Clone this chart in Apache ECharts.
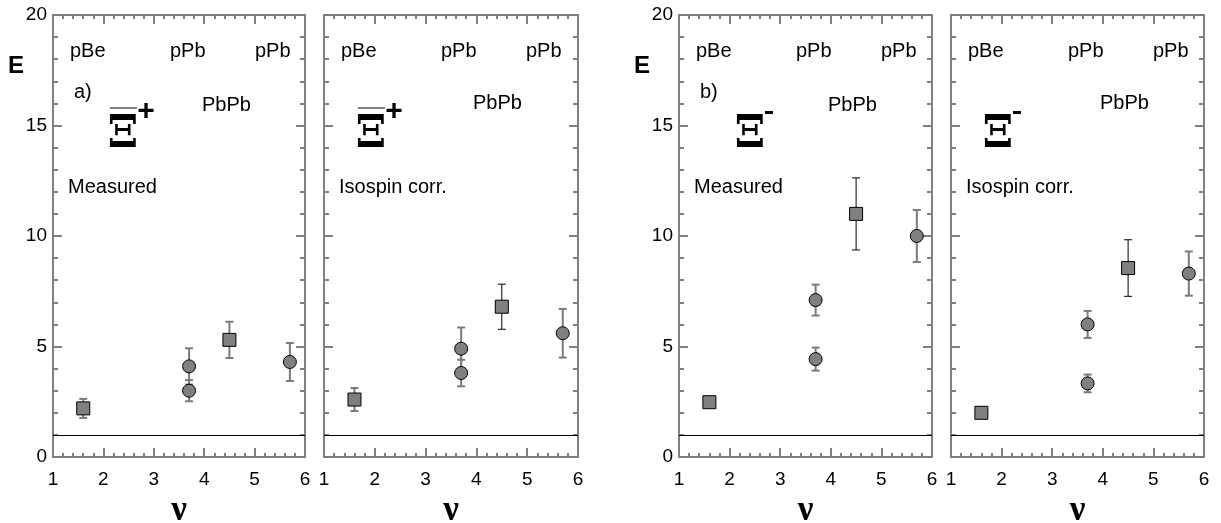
<!DOCTYPE html>
<html>
<head>
<meta charset="utf-8">
<script src="https://cdn.jsdelivr.net/npm/echarts@6/dist/echarts.min.js"></script>
<style>html,body{margin:0;padding:0;background:#fff;}#c{width:1221px;height:523px;}</style>
</head>
<body>
<div id="c"></div>
<script>
// ---- data ----
const nu = [1.6, 3.7, 3.7, 4.5, 5.7];
const shapes = ['rect', 'circle', 'circle', 'rect', 'circle'];
const xiPlusMeasured = [2.2, 4.1, 3.0, 5.3, 4.3];
const xiPlusMeasuredErr = [0.43, 0.82, 0.48, 0.82, 0.86];
const xiPlusCorr = [2.6, 4.9, 3.8, 6.8, 5.6];
const xiPlusCorrErr = [0.52, 0.96, 0.6, 1.02, 1.1];
const xiMinusMeasured = [2.48, 7.1, 4.43, 11.0, 10.0];
const xiMinusMeasuredErr = [0.1, 0.7, 0.52, 1.63, 1.18];
const xiMinusCorr = [2.0, 6.0, 3.33, 8.55, 8.3];
const xiMinusCorrErr = [0.1, 0.61, 0.4, 1.28, 1.0];
const xTicks = [1, 2, 3, 4, 5, 6];
const yTicks = [0, 5, 10, 15, 20];
const refLevel = 1;
const systems = ['pBe', 'pPb', 'pPb', 'PbPb'];
const panelLabels = ['a)', '', 'b)', ''];
const panelNotes = ['Measured', 'Isospin corr.', 'Measured', 'Isospin corr.'];
const particleCharge = ['+', '+', '-', '-'];

const panels = [
  {vals: xiPlusMeasured, errs: xiPlusMeasuredErr, left: 53, width: 252, ylab: true, darkIdx: [], xiDx: 57},
  {vals: xiPlusCorr, errs: xiPlusCorrErr, left: 324, width: 254, ylab: false, darkIdx: [3], xiDx: 34},
  {vals: xiMinusMeasured, errs: xiMinusMeasuredErr, left: 679, width: 253, ylab: true, darkIdx: [3], xiDx: 58},
  {vals: xiMinusCorr, errs: xiMinusCorrErr, left: 951, width: 253, ylab: false, darkIdx: [3], xiDx: 34}
];
const TOP = 15, HEIGHT = 442;
const AX = '#808080';
const FONT = 'Liberation Sans, Arial, sans-serif';

const grid = [], xAxis = [], yAxis = [], series = [], graphic = [];

panels.forEach((p, i) => {
  grid.push({left: p.left, top: TOP, width: p.width, height: HEIGHT, outerBoundsMode: 'none', containLabel: false});
  const axLine = {show: true, onZero: false, lineStyle: {color: AX, width: 2}};
  const common = {
    type: 'value', gridIndex: i, axisLine: axLine,
    splitLine: {show: false}, minorSplitLine: {show: false}
  };
  // bottom x
  xAxis.push(Object.assign({}, common, {
    position: 'bottom', min: xTicks[0], max: xTicks[xTicks.length - 1], interval: 1,
    axisTick: {show: true, inside: true, length: 9, lineStyle: {color: AX, width: 2}},
    minorTick: {show: true, splitNumber: 5, length: 4, lineStyle: {color: AX, width: 2}},
    axisLabel: {show: true, fontSize: 19, color: '#000', fontFamily: FONT, margin: 13},
    name: 'ν', nameLocation: 'middle', nameGap: 28,
    nameTextStyle: {fontSize: 35, fontWeight: 'bold', color: '#000', fontFamily: 'Liberation Serif, serif'}
  }));
  // top x
  xAxis.push(Object.assign({}, common, {
    position: 'top', min: xTicks[0], max: xTicks[xTicks.length - 1], interval: 1,
    axisTick: {show: true, inside: true, length: 9, lineStyle: {color: AX, width: 2}},
    minorTick: {show: true, splitNumber: 5, length: 4, lineStyle: {color: AX, width: 2}},
    axisLabel: {show: false}
  }));
  // left y
  yAxis.push(Object.assign({}, common, {
    position: 'left', min: yTicks[0], max: yTicks[yTicks.length - 1], interval: 5,
    axisTick: {show: true, inside: true, length: 9, lineStyle: {color: AX, width: 2}},
    minorTick: {show: true, splitNumber: 5, length: 5, lineStyle: {color: AX, width: 2}},
    axisLabel: {show: p.ylab, fontSize: 19, color: '#000', fontFamily: FONT, margin: 6}
  }));
  // right y
  yAxis.push(Object.assign({}, common, {
    position: 'right', min: yTicks[0], max: yTicks[yTicks.length - 1], interval: 5,
    axisTick: {show: true, inside: true, length: 9, lineStyle: {color: AX, width: 2}},
    minorTick: {show: true, splitNumber: 5, length: 5, lineStyle: {color: AX, width: 2}},
    axisLabel: {show: false}
  }));

  const xIdx = i * 2, yIdx = i * 2;
  const errData = nu.map((x, k) => [x, p.vals[k], p.errs[k], p.darkIdx.indexOf(k) >= 0 ? 1 : 0]);
  series.push({
    type: 'custom', xAxisIndex: xIdx, yAxisIndex: yIdx, z: 2, silent: true,
    data: errData,
    renderItem: function (params, api) {
      const x = api.value(0), y = api.value(1), e = api.value(2), dark = api.value(3);
      const t = api.coord([x, y + e]), b = api.coord([x, y - e]);
      const hw = 4;
      const st = {stroke: dark ? '#000' : '#7a7a7a', lineWidth: dark ? 1 : 2};
      return {
        type: 'group', children: [
          {type: 'line', shape: {x1: t[0], y1: t[1], x2: b[0], y2: b[1]}, style: st},
          {type: 'line', shape: {x1: t[0] - hw, y1: t[1], x2: t[0] + hw, y2: t[1]}, style: st},
          {type: 'line', shape: {x1: b[0] - hw, y1: b[1], x2: b[0] + hw, y2: b[1]}, style: st}
        ]
      };
    }
  });
  ['rect', 'circle'].forEach(shape => {
    series.push({
      type: 'scatter', xAxisIndex: xIdx, yAxisIndex: yIdx, z: 3, silent: true,
      symbol: shape, symbolSize: 13,
      itemStyle: {color: '#808080', borderColor: '#000', borderWidth: 1, opacity: 1},
      data: nu.map((x, k) => shapes[k] === shape ? [x, p.vals[k]] : null).filter(d => d)
    });
  });
  // reference line
  series.push({
    type: 'line', xAxisIndex: xIdx, yAxisIndex: yIdx, data: [], silent: true,
    markLine: {
      silent: true, symbol: ['none', 'none'], label: {show: false},
      lineStyle: {color: '#000', width: 1, type: 'solid'},
      data: [{yAxis: refLevel}]
    }
  });

  // annotations
  const L = p.left;
  const txt = (s, x, y, size, weight, align, family) => graphic.push({
    type: 'text', x: x, y: y, silent: true,
    style: {text: s, fill: '#000', font: (weight || 'normal') + ' ' + size + 'px ' + (family || FONT),
      align: align || 'left', verticalAlign: 'middle'}
  });
  txt(systems[0], L + 17, 51, 20);
  txt(systems[1], L + 117, 51, 20);
  txt(systems[2], L + 202, 51, 20);
  txt(systems[3], L + 149, i % 2 ? 103 : 105, 20);
  if (panelLabels[i]) txt(panelLabels[i], L + 21, 92, 20);
  txt(panelNotes[i], L + 15, 187, 20);
  if (p.ylab) txt('E', L - 45, 66, 24, 'bold');
  // Xi symbol
  const xl = L + p.xiDx;
  txt('Ξ', xl + 13, 136, 44, 'bold', 'center', 'DejaVu Serif, serif');
  if (particleCharge[i] === '+') {
    graphic.push({type: 'line', silent: true, shape: {x1: xl, y1: 108, x2: xl + 27, y2: 108}, style: {stroke: '#808080', lineWidth: 2}});
    txt('+', xl + 36, 112, 30, 'bold', 'center');
  } else {
    graphic.push({type: 'rect', silent: true, shape: {x: xl + 28, y: 111, width: 8, height: 3}, style: {fill: '#000'}});
  }
});

const chart = echarts.init(document.getElementById('c'), null, {renderer: 'canvas'});
chart.setOption({
  animation: false, backgroundColor: '#fff',
  grid: grid, xAxis: xAxis, yAxis: yAxis, series: series, graphic: graphic
});
</script>
</body>
</html>
